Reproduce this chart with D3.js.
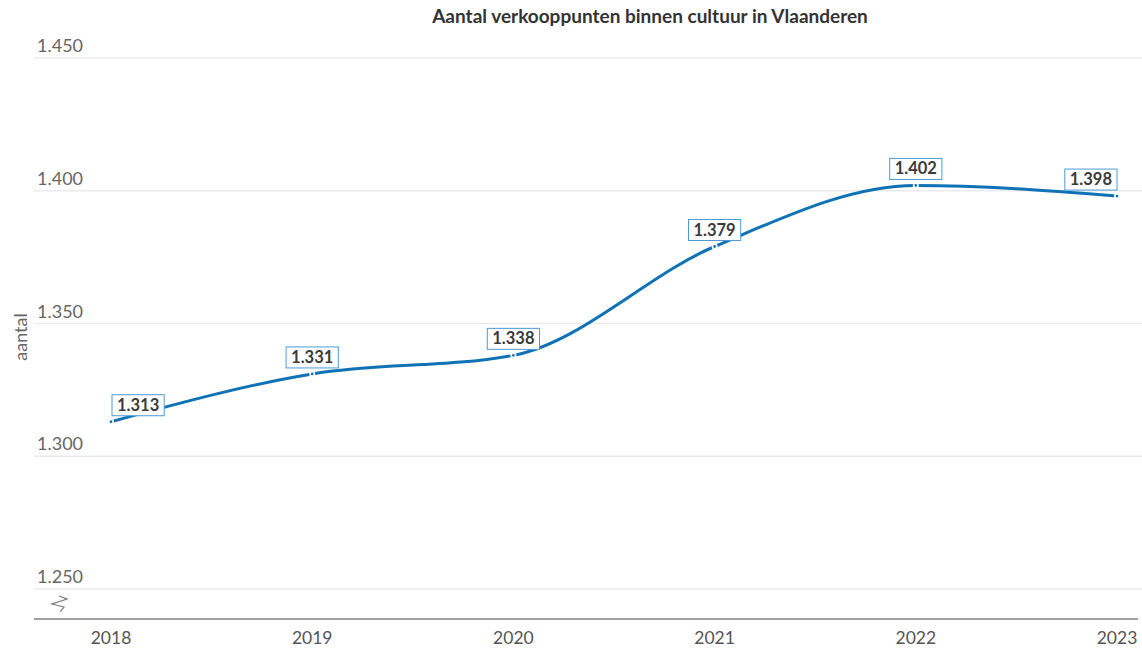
<!DOCTYPE html>
<html><head><meta charset="utf-8">
<script src="https://cdn.jsdelivr.net/npm/d3@7"></script>
<style>body{margin:0;background:#fff}svg{display:block}text{font-family:Lato,"Open Sans",sans-serif}</style>
</head><body><svg id="c" width="1142" height="652"></svg>
<script>
const years = ["2018","2019","2020","2021","2022","2023"];
const values = [1313,1331,1338,1379,1402,1398];
const yTicks = [1250,1300,1350,1400,1450];
const title = "Aantal verkooppunten binnen cultuur in Vlaanderen";
const yTitle = "aantal";
const fmt = v => d3.format(",")(v).replace(",", ".");

const svg = d3.select("#c");
const x = d3.scalePoint().domain(years).range([111,1117]);
const y = d3.scaleLinear().domain([1250,1450]).range([589,58]);
const blue = "#0f72b4";

svg.append("text").attr("x",650).attr("y",23).attr("text-anchor","middle")
  .attr("font-size",19).attr("font-weight",700).attr("fill","#333").text(title);

// grid
const g = svg.append("g");
g.selectAll("line.grid").data(yTicks).join("line")
  .attr("x1",34).attr("x2",1142).attr("y1",d=>y(d)).attr("y2",d=>y(d))
  .attr("stroke","#ebebeb").attr("stroke-width",1.5);
g.selectAll("text.yt").data(yTicks).join("text")
  .attr("x",37).attr("y",d=>y(d)-6).attr("font-size",18).attr("fill","#666").text(fmt);

svg.append("text").attr("transform","translate(27,337) rotate(-90)").attr("text-anchor","middle")
  .attr("font-size",18).attr("fill","#666").text(yTitle);

// baseline axis
const base = y(1250)+30;
svg.append("line").attr("x1",34).attr("x2",1138).attr("y1",base).attr("y2",base)
  .attr("stroke","#a0a0a0").attr("stroke-width",2);
svg.append("path").attr("d",`M59,${base-23} L67,${base-20} L52,${base-15} L64,${base-12} L60,${base-7}`)
  .attr("fill","none").attr("stroke","#777").attr("stroke-width",1.2);
svg.selectAll("text.xt").data(years).join("text")
  .attr("x",d=>x(d)).attr("y",644).attr("text-anchor","middle").attr("font-size",17.5).attr("fill","#555").text(d=>d);

const data = years.map((d,i)=>({year:d,value:values[i]}));
svg.append("path").datum(data)
  .attr("d",d3.line().x(d=>x(d.year)).y(d=>y(d.value)).curve(d3.curveMonotoneX))
  .attr("fill","none").attr("stroke",blue).attr("stroke-width",3);
svg.selectAll("circle.pt").data(data).join("circle")
  .attr("cx",d=>x(d.year)).attr("cy",d=>y(d.value)).attr("r",2.2)
  .attr("fill",blue).attr("stroke","#fff").attr("stroke-width",1.6);

// labels
const lg = svg.selectAll("g.lab").data(data).join("g");
lg.each(function(d,i){
  const gg = d3.select(this);
  const t = gg.append("text").attr("font-size",16.5).attr("font-weight",700).attr("fill","#3a3a3a").text(fmt(d.value));
  const w = t.node().getComputedTextLength()+10, h = 21;
  let cx = x(d.year);
  let left = cx - w/2;
  if (i===0) left = cx+1;
  if (i===data.length-1) left = cx - w;
  const top = y(d.value) - 6 - h;
  gg.insert("rect","text").attr("x",left).attr("y",top).attr("width",w).attr("height",h)
    .attr("fill","#fff").attr("stroke","#4d9bd3").attr("stroke-width",1);
  t.attr("x",left+w/2).attr("y",top+16).attr("text-anchor","middle");
});
</script></body></html>
